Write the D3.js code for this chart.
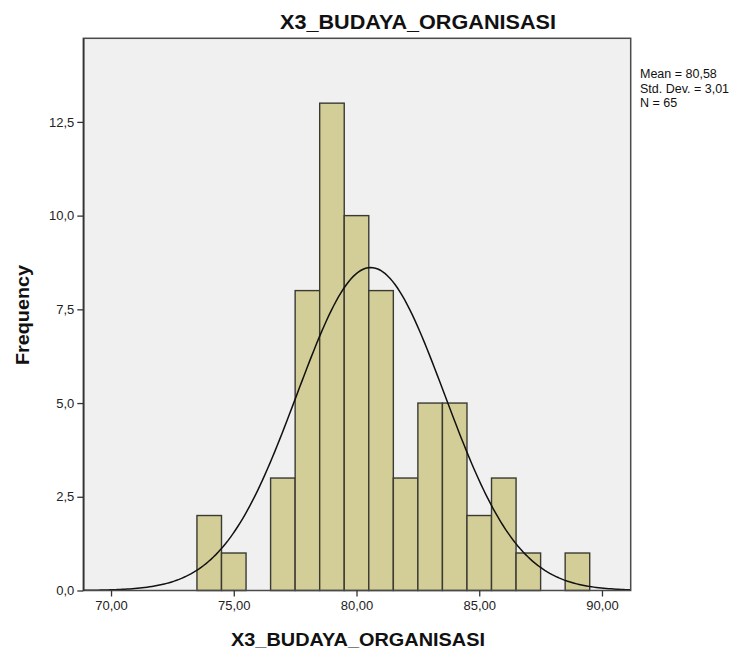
<!DOCTYPE html>
<html>
<head>
<meta charset="utf-8">
<script src="https://cdn.jsdelivr.net/npm/d3@7"></script>
<style>
  body { margin: 0; background: #fff; }
  text { font-family: "Liberation Sans", Arial, sans-serif; }
</style>
</head>
<body>
<div id="chart"></div>
<script>
// bin centres and frequencies
var binCenters = [74, 75, 76, 77, 78, 79, 80, 81, 82, 83, 84, 85, 86, 87, 88, 89];
var binCounts  = [2, 1, 0, 3, 8, 13, 10, 8, 3, 5, 5, 2, 3, 1, 0, 1];
var xTicks = [70, 75, 80, 85, 90];
var yTicks = [0, 2.5, 5, 7.5, 10, 12.5];
var statsLines = ["Mean = 80,58", "Std. Dev. = 3,01", "N = 65"];
var mean = 80.58, sd = 3.01, n = 65, binWidth = 1;

var width = 744, height = 652;
var margin = {left: 83.3, right: 113.3, top: 38.3, bottom: 61.5};

var svg = d3.select("#chart").append("svg")
    .attr("width", width)
    .attr("height", height);

var x = d3.scaleLinear()
    .domain([68.87, 91.17])
    .range([margin.left, width - margin.right]);
var y = d3.scaleLinear()
    .domain([0, 14.73])
    .range([height - margin.bottom, margin.top]);

// comma as decimal separator
var locale = d3.formatLocale({decimal: ",", thousands: ".", grouping: [3], currency: ["", ""]});

// plot background
svg.append("rect")
    .attr("x", x.range()[0])
    .attr("y", y.range()[1])
    .attr("width", x.range()[1] - x.range()[0])
    .attr("height", y.range()[0] - y.range()[1])
    .attr("fill", "#f0f0f0");

// bars
svg.selectAll("rect.bar")
    .data(binCenters.map(function (c, i) { return {c: c, n: binCounts[i]}; })
        .filter(function (d) { return d.n > 0; }))
    .enter().append("rect")
    .attr("class", "bar")
    .attr("x", function (d) { return x(d.c - binWidth / 2); })
    .attr("y", function (d) { return y(d.n); })
    .attr("width", function (d) { return x(d.c + binWidth / 2) - x(d.c - binWidth / 2); })
    .attr("height", function (d) { return y(0) - y(d.n); })
    .attr("fill", "#d3ce97")
    .attr("stroke", "#3a3a33")
    .attr("stroke-width", 1.4);

// normal curve from the stated mean and std. dev.
var curvePts = d3.range(x.domain()[0], x.domain()[1] + 0.01, 0.1).map(function (v) {
    var z = (v - mean) / sd;
    return [v, n * binWidth * Math.exp(-0.5 * z * z) / (sd * Math.sqrt(2 * Math.PI))];
});
svg.append("path")
    .datum(curvePts)
    .attr("fill", "none")
    .attr("stroke", "#111")
    .attr("stroke-width", 1.5)
    .attr("d", d3.line()
        .x(function (d) { return x(d[0]); })
        .y(function (d) { return y(d[1]); }));

// frame
svg.append("rect")
    .attr("x", x.range()[0])
    .attr("y", y.range()[1])
    .attr("width", x.range()[1] - x.range()[0])
    .attr("height", y.range()[0] - y.range()[1])
    .attr("fill", "none")
    .attr("stroke", "#4a4a4a")
    .attr("stroke-width", 1.5);

// y axis
var yAxis = svg.append("g")
    .attr("transform", "translate(" + margin.left + ",0)")
    .call(d3.axisLeft(y).tickValues(yTicks).tickSizeInner(6).tickSizeOuter(0).tickPadding(3)
        .tickFormat(locale.format(".1f")));
yAxis.select(".domain").attr("stroke", "#333").attr("stroke-width", 1.5);
yAxis.selectAll(".tick line").attr("stroke", "#333").attr("stroke-width", 1.3);
yAxis.selectAll("text")
    .attr("fill", "#222")
    .style("font-size", "13px")
    .style("font-family", "'Liberation Sans', Arial, sans-serif");

// x axis
var xAxis = svg.append("g")
    .attr("transform", "translate(0," + (height - margin.bottom) + ")")
    .call(d3.axisBottom(x).tickValues(xTicks).tickSizeInner(6).tickSizeOuter(0).tickPadding(4)
        .tickFormat(locale.format(".2f")));
xAxis.select(".domain").remove();
xAxis.selectAll(".tick line").attr("stroke", "#333").attr("stroke-width", 1.3);
xAxis.selectAll("text")
    .attr("fill", "#222")
    .style("font-size", "13px")
    .style("font-family", "'Liberation Sans', Arial, sans-serif");

// title
svg.append("text")
    .attr("x", 418)
    .attr("y", 29)
    .attr("text-anchor", "middle")
    .attr("textLength", 276)
    .attr("lengthAdjust", "spacingAndGlyphs")
    .style("font-size", "21px")
    .style("font-weight", "600")
    .attr("fill", "#111")
    .text("X3_BUDAYA_ORGANISASI");

// axis titles
svg.append("text")
    .attr("x", 358)
    .attr("y", 646)
    .attr("text-anchor", "middle")
    .attr("textLength", 254)
    .attr("lengthAdjust", "spacingAndGlyphs")
    .style("font-size", "19px")
    .style("font-weight", "bold")
    .attr("fill", "#111")
    .text("X3_BUDAYA_ORGANISASI");

svg.append("text")
    .attr("transform", "translate(29,315) rotate(-90)")
    .attr("text-anchor", "middle")
    .attr("textLength", 100)
    .attr("lengthAdjust", "spacingAndGlyphs")
    .style("font-size", "19px")
    .style("font-weight", "bold")
    .attr("fill", "#111")
    .text("Frequency");

// stats legend
svg.append("g").selectAll("text")
    .data(statsLines)
    .enter().append("text")
    .attr("x", 640)
    .attr("y", function (d, i) { return 78 + i * 14.5; })
    .style("font-size", "12.5px")
    .attr("fill", "#111")
    .text(function (d) { return d; });
</script>
</body>
</html>
